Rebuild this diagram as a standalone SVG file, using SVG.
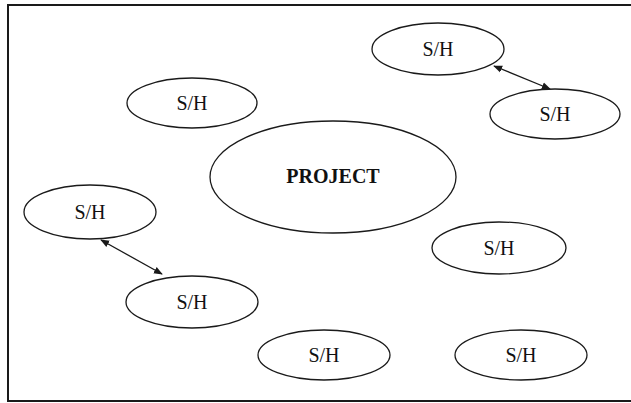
<svg xmlns="http://www.w3.org/2000/svg" width="631" height="403" viewBox="0 0 631 403">
<defs>
<style>
.n ellipse{fill:#fff;stroke:#1a1a1a;stroke-width:1.3}
.n text{font-family:"Liberation Serif","Times New Roman",serif;font-size:20px;fill:#111;text-anchor:middle}
.c line{stroke:#1a1a1a;stroke-width:1.3;marker-start:url(#ah);marker-end:url(#ah)}
</style>
<marker id="ah" viewBox="0 0 10 10" refX="9" refY="5" markerWidth="9" markerHeight="9" markerUnits="userSpaceOnUse" orient="auto-start-reverse">
<path d="M0,1 L10,5 L0,9 z" fill="#1a1a1a"/>
</marker>
</defs>
<rect x="0" y="0" width="631" height="403" fill="#fff"/>
<rect x="8" y="5" width="628" height="396" fill="none" stroke="#1a1a1a" stroke-width="2"/>
<g id="connectors" class="c">
<line x1="494" y1="66" x2="550" y2="89"/>
<line x1="101" y1="240" x2="162" y2="274"/>
</g>
<g id="project" class="n"><ellipse cx="333" cy="177" rx="123" ry="56"/><text x="333" y="183" font-weight="bold" font-size="21">PROJECT</text></g>
<g id="sh1" class="n"><ellipse cx="438" cy="49" rx="66" ry="26"/><text x="438" y="56">S/H</text></g>
<g id="sh2" class="n"><ellipse cx="555" cy="114" rx="65" ry="25"/><text x="555" y="121">S/H</text></g>
<g id="sh3" class="n"><ellipse cx="192" cy="103" rx="65" ry="25"/><text x="192" y="110">S/H</text></g>
<g id="sh4" class="n"><ellipse cx="90" cy="212" rx="66" ry="27"/><text x="90" y="219">S/H</text></g>
<g id="sh5" class="n"><ellipse cx="192" cy="302" rx="66" ry="26"/><text x="192" y="309">S/H</text></g>
<g id="sh6" class="n"><ellipse cx="499" cy="248" rx="67" ry="26"/><text x="499" y="255">S/H</text></g>
<g id="sh7" class="n"><ellipse cx="324" cy="355" rx="66" ry="25"/><text x="324" y="362">S/H</text></g>
<g id="sh8" class="n"><ellipse cx="521" cy="355" rx="66" ry="25"/><text x="521" y="362">S/H</text></g>
</svg>
